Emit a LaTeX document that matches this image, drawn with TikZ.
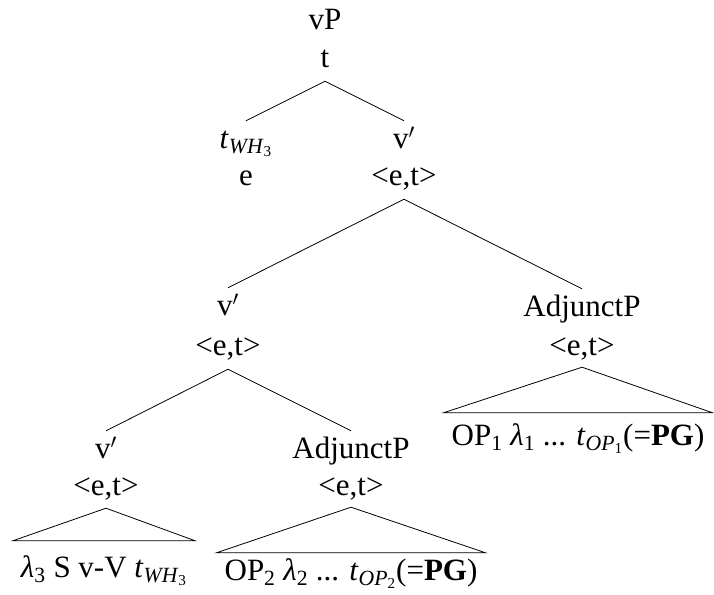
\documentclass[tikz,border=0pt]{standalone}
\usepackage{fontspec}
\setmainfont{Liberation Serif}
\tikzset{
  lbl/.style={font=\fontsize{31}{35}\selectfont, inner sep=0pt, anchor=base},
  cat/.style={lbl, text height=27pt},
  typ/.style={lbl, text depth=14pt},
  leaf/.style={lbl, inner xsep=8pt, text height=27pt},
  edge/.style={draw=black, line width=0.8pt},
}
\newcommand{\mysub}[1]{\textsubscript{#1}}
\begin{document}
\begin{tikzpicture}[x=1pt,y=-1pt]
\useasboundingbox (0,0) rectangle (714,594);
% root
\node[cat] (vP) at (325,30) {vP};
\node[typ] (vPt) at (325,67) {t};
% level 1
\node[cat] (twh) at (246,148) {\textit{t}\mysub{\textit{WH}\mysub{3}}};
\node[typ] (twht) at (246,185) {e};
\node[cat] (v1) at (404,148) {v$'$};
\node[typ] (v1t) at (404,185) {<e,t>};
% level 2
\node[cat] (v2) at (228,315) {v$'$};
\node[typ] (v2t) at (228,355) {<e,t>};
\node[cat] (adj1) at (582,316) {AdjunctP};
\node[typ, text depth=12pt] (adj1t) at (582,355) {<e,t>};
\node[leaf, text height=32pt] (leaf1) at (578,445) {OP\mysub{1} \textit{λ}\mysub{1} ... \textit{t}\mysub{\textit{OP}\mysub{1}}(=\textbf{PG})};
% level 3
\node[cat] (v3) at (106,458) {v$'$};
\node[typ, text depth=13pt] (v3t) at (106,495) {<e,t>};
\node[leaf, text height=36pt] (leaf3) at (104,577) {\textit{λ}\mysub{3} S v-V \textit{t}\mysub{\textit{WH}\mysub{3}}};
\node[cat] (adj2) at (351,458) {AdjunctP};
\node[typ, text depth=12pt] (adj2t) at (351,495) {<e,t>};
\node[leaf] (leaf2) at (351,580) {OP\mysub{2} \textit{λ}\mysub{2} ... \textit{t}\mysub{\textit{OP}\mysub{2}}(=\textbf{PG})};
% branches
\draw[edge] (twh.north) -- (vPt.south) -- (v1.north);
\draw[edge] (v2.north) -- (v1t.south) -- (adj1.north);
\draw[edge] (v3.north) -- (v2t.south) -- (adj2.north);
% triangles
\draw[edge] (adj1t.south) -- (leaf1.north west) -- (leaf1.north east) -- cycle;
\draw[edge] (v3t.south) -- (leaf3.north west) -- (leaf3.north east) -- cycle;
\draw[edge] (adj2t.south) -- (leaf2.north west) -- (leaf2.north east) -- cycle;
\end{tikzpicture}
\end{document}
